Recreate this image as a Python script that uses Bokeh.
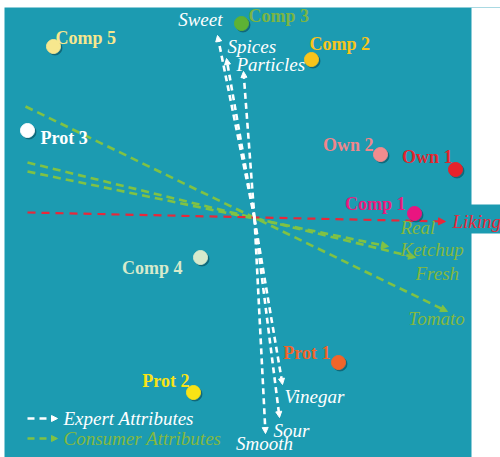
from bokeh.plotting import figure
from bokeh.models import ColumnDataSource, Arrow, NormalHead, Range1d
from bokeh.core.properties import value
from bokeh.embed import file_html
from bokeh.resources import INLINE

# ---------------- data (biplot scores) ----------------
products = ["Comp 5", "Prot 3", "Comp 3", "Comp 2", "Own 2",
            "Own 1", "Comp 1", "Comp 4", "Prot 2", "Prot 1"]
prod_x = [-4.02, -4.54, -0.26, 1.14, 2.52, 4.02, 3.20, -1.08, -1.22, 1.68]
prod_y = [3.44, 1.76, 3.90, 3.18, 1.28, 0.98, 0.10, -0.78, -3.48, -2.88]

expert_attrs = ["Sweet", "Spices", "Particles", "Vinegar", "Sour", "Smooth"]
expert_x = [-0.74, -0.56, -0.22, 0.56, 0.50, 0.22]
expert_y = [3.66, 3.20, 2.94, -3.32, -3.98, -4.30]

consumer_attrs = ["Real\nKetchup", "Fresh", "Tomato"]
consumer_x = [2.68, 3.22, 3.86]
consumer_y = [-0.56, -0.78, -1.86]
consumer_tail_x = [-4.54, -4.54, -4.58]
consumer_tail_y = [0.94, 1.12, 2.24]

liking_label = "Liking"
liking_x = [-4.54, 3.82]
liking_y = [0.12, -0.06]

legend_labels = ["Expert Attributes", "Consumer Attributes"]

# ---------------- styles ----------------
TEAL = "#1c9bb1"
WHITE = "#ffffff"
GREEN_LINE = "#80c244"
GREEN_TEXT = "#84b83f"
RED = "#e8283a"
prod_colors = ["#f7e78e", "#ffffff", "#5db234", "#f8c41b", "#f28c8e",
               "#e8222a", "#ea1580", "#d7eacc", "#f8e316", "#f0652a"]
label_colors = ["#f7e78e", "#ffffff", "#7bb544", "#f8c41b", "#f0868b",
                "#e4262c", "#e81c7e", "#d7eacc", "#f8e316", "#f0652a"]
# label placement: (anchor, dx px, dy px down)
prod_label_pos = [("left", 2, -9), ("left", 13, 7), ("left", 7, -8),
                  ("left", -2, -16), ("right", -7, -10), ("right", -3, -13),
                  ("right", -9, -10), ("right", -18, 10), ("right", -4, -12),
                  ("right", -8, -10)]
expert_label_pos = [("right", 5, -16), ("left", 1, -12), ("left", -7, -7),
                    ("left", 2, 12), ("left", -6, 13), ("center", -1, 10)]
consumer_label_pos = [("left", 12, -8), ("left", 0, 16), ("center", -11, 7)]

W, H = 500, 457
LEFT, TOP = 4, 7          # page position of the plotting frame
PANEL_RIGHT = 471         # right edge of the teal panel
X0, X1 = -5.0, 4.92
Y0, Y1 = -4.78, 4.22
PX = (W - LEFT) / (X1 - X0)  # pixels per data unit

p = figure(width=W, height=H, x_range=Range1d(X0, X1), y_range=Range1d(Y0, Y1),
           output_backend="svg", toolbar_location=None,
           x_axis_location=None, y_axis_location=None,
           min_border_left=LEFT, min_border_right=0,
           min_border_top=TOP, min_border_bottom=0)
p.background_fill_color = TEAL
p.border_fill_color = "white"
p.outline_line_color = None
for g in p.grid:
    g.visible = False


def fx(page_px):
    return X0 + (page_px - LEFT) / PX


def fy(page_py):
    return Y1 - (page_py - TOP) / PX


def add_text(x, y, txt, color, anchor, dx, dy, style, size="18px", lh=1.0):
    p.text(x=[x + dx / PX], y=[y - dy / PX], text=[txt],
           text_font=value("Liberation Serif"), text_font_style=style,
           text_font_size=size, text_color=color, text_align=anchor,
           text_baseline="middle", text_line_height=lh)


# ---------------- consumer attributes (green dashed) ----------------
csrc = ColumnDataSource(dict(x0=consumer_tail_x, y0=consumer_tail_y,
                             x1=consumer_x, y1=consumer_y))
p.add_layout(Arrow(x_start="x0", y_start="y0", x_end="x1", y_end="y1", source=csrc,
                   line_color=GREEN_LINE, line_width=2.6, line_dash="8 5",
                   end=NormalHead(size=7, fill_color=GREEN_LINE, line_color=GREEN_LINE),
                   level="underlay"))

# ---------------- liking (red dashed) ----------------
lsrc = ColumnDataSource(dict(x0=[liking_x[0]], y0=[liking_y[0]],
                             x1=[liking_x[1]], y1=[liking_y[1]]))
p.add_layout(Arrow(x_start="x0", y_start="y0", x_end="x1", y_end="y1", source=lsrc,
                   line_color=RED, line_width=2.2, line_dash="8 6",
                   end=NormalHead(size=7, fill_color=RED, line_color=RED),
                   level="underlay"))

# ---------------- expert attributes (white dashed) ----------------
esrc = ColumnDataSource(dict(x0=[0.0] * len(expert_x), y0=[0.0] * len(expert_y),
                             x1=expert_x, y1=expert_y))
p.add_layout(Arrow(x_start="x0", y_start="y0", x_end="x1", y_end="y1", source=esrc,
                   line_color=WHITE, line_width=2.6, line_dash="6 4",
                   end=NormalHead(size=6, fill_color=WHITE, line_color=WHITE),
                   level="underlay"))

# ---------------- white margin right of the panel (except the Liking tab) ----------------
p.quad(left=[fx(PANEL_RIGHT), fx(PANEL_RIGHT)], right=[X1, X1],
       top=[Y1, fy(233)], bottom=[fy(204), Y0],
       fill_color="white", line_color=None)

# ---------------- products ----------------
shadow = ColumnDataSource(dict(x=[v + 1.5 / PX for v in prod_x],
                               y=[v - 1.5 / PX for v in prod_y]))
p.scatter("x", "y", source=shadow, size=14, color="#0b4f5c", alpha=0.55)
psrc = ColumnDataSource(dict(x=prod_x, y=prod_y, c=prod_colors))
p.scatter("x", "y", source=psrc, size=14, fill_color="c", line_color="c")

for i, name in enumerate(products):
    a, dx, dy = prod_label_pos[i]
    add_text(prod_x[i], prod_y[i], name, label_colors[i], a, dx, dy, "bold", "18px")

for i, name in enumerate(expert_attrs):
    a, dx, dy = expert_label_pos[i]
    add_text(expert_x[i], expert_y[i], name, WHITE, a, dx, dy, "italic", "19px")

for i, name in enumerate(consumer_attrs):
    a, dx, dy = consumer_label_pos[i]
    add_text(consumer_x[i], consumer_y[i], name, GREEN_TEXT, a, dx, dy, "italic", "19px", 1.05)

add_text(liking_x[1], liking_y[1], liking_label, RED, "left", 7, 0, "italic", "19px")

# ---------------- legend ----------------
leg_colors = [WHITE, GREEN_LINE]
leg_text_colors = [WHITE, GREEN_TEXT]
leg_rows = [418, 438]
for i, lab in enumerate(legend_labels):
    src = ColumnDataSource(dict(x0=[fx(27)], y0=[fy(leg_rows[i])],
                                x1=[fx(57)], y1=[fy(leg_rows[i])]))
    p.add_layout(Arrow(x_start="x0", y_start="y0", x_end="x1", y_end="y1", source=src,
                       line_color=leg_colors[i], line_width=2.5, line_dash="7 5",
                       end=NormalHead(size=6, fill_color=leg_colors[i],
                                      line_color=leg_colors[i])))
    p.text(x=[fx(63)], y=[fy(leg_rows[i])], text=[lab],
           text_font=value("Liberation Serif"), text_font_style="italic",
           text_font_size="19px", text_color=leg_text_colors[i],
           text_align="left", text_baseline="middle")

open("out.html", "w").write(file_html(p, INLINE))
